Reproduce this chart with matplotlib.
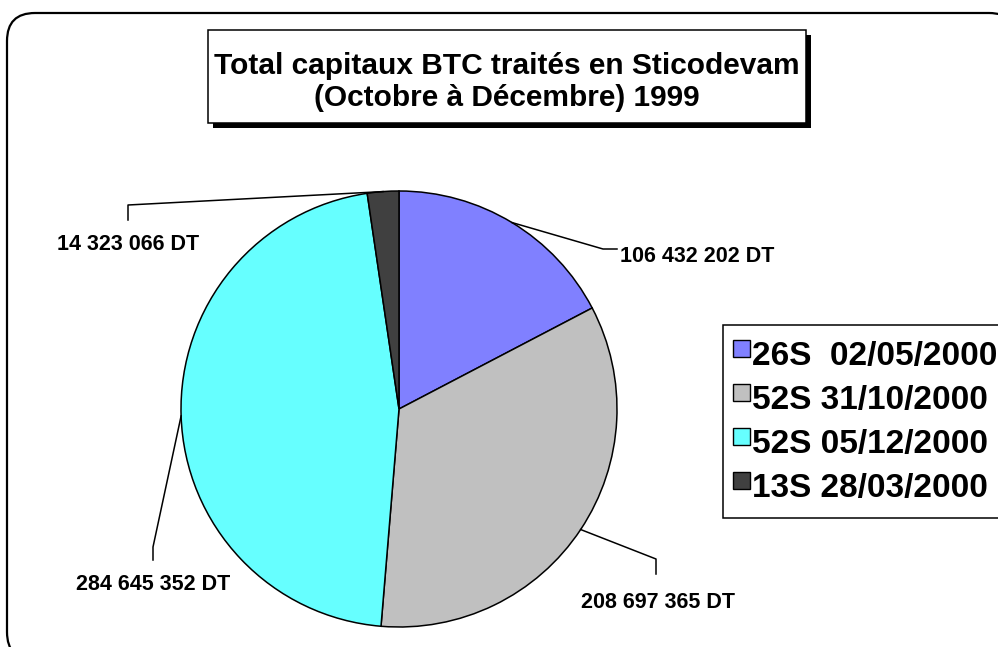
import numpy as np
import matplotlib
matplotlib.use("Agg")
from matplotlib import pyplot as plt
from matplotlib.patches import FancyBboxPatch, Rectangle

# data
series_labels = ["26S  02/05/2000", "52S 31/10/2000", "52S 05/12/2000", "13S 28/03/2000"]
values = [106432202, 208697365, 284645352, 14323066]
value_labels = ["106 432 202 DT", "208 697 365 DT", "284 645 352 DT", "14 323 066 DT"]
colors = ["#8080FF", "#C0C0C0", "#66FFFF", "#404040"]

W, H = 998, 647
plt.rcParams['font.family'] = ['Liberation Sans', 'DejaVu Sans']

fig = plt.figure(figsize=(W / 100, H / 100), dpi=100)
ax = fig.add_axes([0, 0, 1, 1])


def yy(y):  # image row -> axis y
    return H - y


# outer rounded frame (runs off the right and bottom edges)
frame = FancyBboxPatch((7, yy(660)), 1010, 647, boxstyle="round,pad=0,rounding_size=28",
                       facecolor="white", edgecolor="black", linewidth=1.6, zorder=0)
ax.add_patch(frame)

# pie
cx, cy, r = 399, yy(409), 218
wedges, _ = ax.pie(values, colors=colors, startangle=90, counterclock=False,
                   center=(cx, cy), radius=r,
                   wedgeprops=dict(edgecolor="black", linewidth=1.1))

# leader lines and value labels
elbows = [[(603, 249), (617, 249)],
          [(656, 559), (656, 574)],
          [(153, 547), (153, 560)],
          [(128, 205), (128, 220)]]
text_pos = [(620, 256, "left"), (658, 603, "center"), (153, 584, "center"), (128, 245, "center")]

for w, pts, (tx, ty, ha), lab in zip(wedges, elbows, text_pos, value_labels):
    mid = np.deg2rad((w.theta1 + w.theta2) / 2)
    xs = [cx + r * np.cos(mid)] + [p[0] for p in pts]
    ys = [cy + r * np.sin(mid)] + [yy(p[1]) for p in pts]
    ax.plot(xs, ys, color="black", linewidth=1.1, zorder=3)
    ax.text(tx, yy(ty), lab, ha=ha, va="center", fontsize=15.5, fontweight="bold", zorder=4)

# title box with shadow
tb_x0, tb_y0, tb_x1, tb_y1 = 208, 30, 806, 123
ax.add_patch(Rectangle((tb_x0 + 5, yy(tb_y1 + 5)), tb_x1 - tb_x0, tb_y1 - tb_y0,
                       facecolor="black", edgecolor="none", zorder=5))
ax.add_patch(Rectangle((tb_x0, yy(tb_y1)), tb_x1 - tb_x0, tb_y1 - tb_y0,
                       facecolor="white", edgecolor="black", linewidth=1.1, zorder=6))
ax.text((tb_x0 + tb_x1) / 2, yy(82), "Total capitaux BTC traités en Sticodevam\n(Octobre à Décembre) 1999",
        ha="center", va="center", fontsize=21.5, fontweight="bold", linespacing=1.2, zorder=7)

# legend box
ax.add_patch(Rectangle((723, yy(518)), 300, 518 - 325,
                       facecolor="white", edgecolor="black", linewidth=1.1, zorder=5))
for i, (lab, col) in enumerate(zip(series_labels, colors)):
    top = 340 + i * 44
    ax.add_patch(Rectangle((733, yy(top + 17)), 17, 17, facecolor=col,
                           edgecolor="black", linewidth=1.0, zorder=6))
    ax.text(752, yy(top + 16), lab, ha="left", va="center", fontsize=24,
            fontweight="bold", zorder=6)

ax.set_xlim(0, W)
ax.set_ylim(0, H)
ax.set_aspect("auto")
ax.axis("off")

fig.savefig("out.png", dpi=100)
